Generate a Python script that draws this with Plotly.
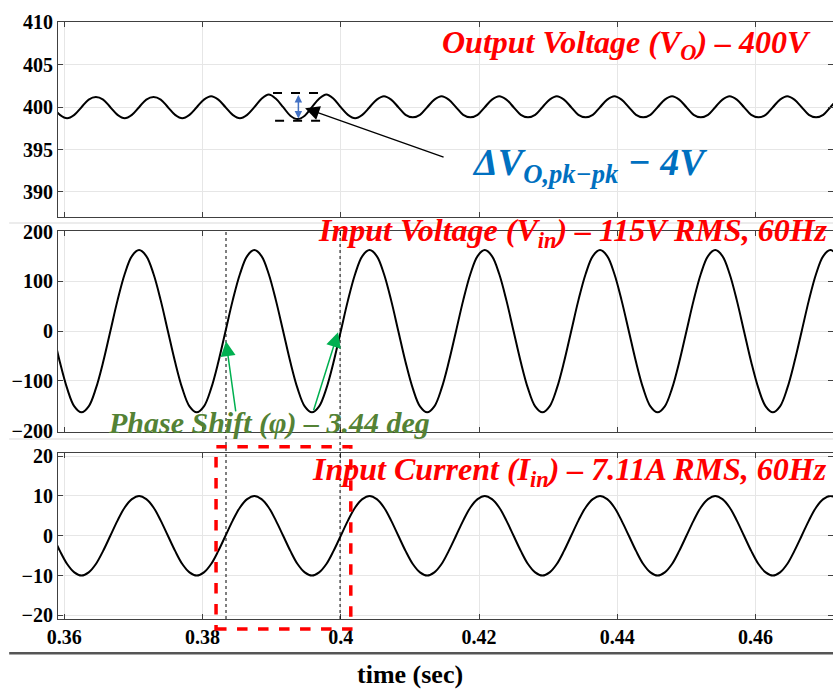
import plotly.graph_objects as go
from plotly.subplots import make_subplots

# ---- data (samples every 1/16 cycle of the 60 Hz line) ----
time_s = [0.35833, 0.35937, 0.36042, 0.36146, 0.36250, 0.36354, 0.36458, 0.36563,
          0.36667, 0.36771, 0.36875, 0.36979, 0.37083, 0.37187, 0.37292, 0.37396,
          0.37500, 0.37604, 0.37708, 0.37812, 0.37917, 0.38021, 0.38125, 0.38229,
          0.38333, 0.38437, 0.38542, 0.38646, 0.38750, 0.38854, 0.38958, 0.39062,
          0.39167, 0.39271, 0.39375, 0.39479, 0.39583, 0.39687, 0.39792, 0.39896,
          0.40000, 0.40104, 0.40208, 0.40312, 0.40417, 0.40521, 0.40625, 0.40729,
          0.40833, 0.40937, 0.41042, 0.41146, 0.41250, 0.41354, 0.41458, 0.41562,
          0.41667, 0.41771, 0.41875, 0.41979, 0.42083, 0.42187, 0.42292, 0.42396,
          0.42500, 0.42604, 0.42708, 0.42812, 0.42917, 0.43021, 0.43125, 0.43229,
          0.43333, 0.43437, 0.43542, 0.43646, 0.43750, 0.43854, 0.43958, 0.44062,
          0.44167, 0.44271, 0.44375, 0.44479, 0.44583, 0.44687, 0.44792, 0.44896,
          0.45000, 0.45104, 0.45208, 0.45312, 0.45417, 0.45521, 0.45625, 0.45729,
          0.45833, 0.45937, 0.46042, 0.46146, 0.46250, 0.46354, 0.46458, 0.46562,
          0.46667, 0.46771, 0.46875, 0.46979, 0.47083, 0.47187, 0.47292]

v_out = [400.0, 399.1, 398.7, 399.1, 400.0, 400.9, 401.2, 400.9,
         400.0, 399.1, 398.7, 399.1, 400.0, 400.9, 401.2, 400.9,
         400.0, 399.1, 398.7, 399.1, 400.0, 400.9, 401.3, 400.9,
         400.0, 399.1, 398.7, 399.1, 400.0, 401.0, 401.5, 401.0,
         400.0, 399.0, 398.6, 399.0, 400.0, 401.0, 401.5, 401.0,
         400.0, 399.1, 398.7, 399.1, 400.0, 400.9, 401.3, 400.9,
         400.0, 399.1, 398.8, 399.1, 400.0, 400.9, 401.3, 400.9,
         400.0, 399.1, 398.8, 399.1, 400.0, 400.9, 401.3, 400.9,
         400.0, 399.1, 398.8, 399.1, 400.0, 400.9, 401.3, 400.9,
         400.0, 399.1, 398.8, 399.1, 400.0, 400.9, 401.3, 400.9,
         400.0, 399.1, 398.8, 399.1, 400.0, 400.9, 401.3, 400.9,
         400.0, 399.1, 398.8, 399.1, 400.0, 400.9, 401.3, 400.9,
         400.0, 399.1, 398.8, 399.1, 400.0, 400.9, 401.3, 400.9,
         400.0, 399.1, 398.8, 399.1, 400.0, 400.9, 401.3]

v_in = [0, -62, -115, -151, -163, -151, -115, -62, 0, 62, 115, 151, 163, 151, 115, 62,
        0, -62, -115, -151, -163, -151, -115, -62, 0, 62, 115, 151, 163, 151, 115, 62,
        0, -62, -115, -151, -163, -151, -115, -62, 0, 62, 115, 151, 163, 151, 115, 62,
        0, -62, -115, -151, -163, -151, -115, -62, 0, 62, 115, 151, 163, 151, 115, 62,
        0, -62, -115, -151, -163, -151, -115, -62, 0, 62, 115, 151, 163, 151, 115, 62,
        0, -62, -115, -151, -163, -151, -115, -62, 0, 62, 115, 151, 163, 151, 115, 62,
        0, -62, -115, -151, -163, -151, -115, -62, 0, 62, 115, 151, 163, 151, 115]

i_in = [0, -3.8, -7.1, -9.2, -10, -9.2, -7.1, -3.8, 0, 3.8, 7.1, 9.2, 10, 9.2, 7.1, 3.8,
        0, -3.8, -7.1, -9.2, -10, -9.2, -7.1, -3.8, 0, 3.8, 7.1, 9.2, 10, 9.2, 7.1, 3.8,
        0, -3.8, -7.1, -9.2, -10, -9.2, -7.1, -3.8, 0, 3.8, 7.1, 9.2, 10, 9.2, 7.1, 3.8,
        0, -3.8, -7.1, -9.2, -10, -9.2, -7.1, -3.8, 0, 3.8, 7.1, 9.2, 10, 9.2, 7.1, 3.8,
        0, -3.8, -7.1, -9.2, -10, -9.2, -7.1, -3.8, 0, 3.8, 7.1, 9.2, 10, 9.2, 7.1, 3.8,
        0, -3.8, -7.1, -9.2, -10, -9.2, -7.1, -3.8, 0, 3.8, 7.1, 9.2, 10, 9.2, 7.1, 3.8,
        0, -3.8, -7.1, -9.2, -10, -9.2, -7.1, -3.8, 0, 3.8, 7.1, 9.2, 10, 9.2, 7.1]

x_ticks = [0.36, 0.38, 0.40, 0.42, 0.44, 0.46]
x_tick_text = ["0.36", "0.38", "0.4", "0.42", "0.44", "0.46"]
vo_ticks = [390, 395, 400, 405, 410]
vin_ticks = [-200, -100, 0, 100, 200]
iin_ticks = [-20, -10, 0, 10, 20]

SERIF = "Liberation Serif"
AX = "#404040"
GRID = "#e6e6e6"
TICKFONT = dict(family=SERIF, size=20, color="black", weight="bold")

fig = make_subplots(rows=3, cols=1, shared_xaxes=True)
for r, y in enumerate([v_out, v_in, i_in], start=1):
    fig.add_trace(go.Scatter(x=time_s, y=y, mode="lines",
                             line=dict(color="black", width=2, shape="spline", smoothing=1.0),
                             showlegend=False, hoverinfo="skip"), row=r, col=1)

fig.update_layout(
    width=833, height=690,
    margin=dict(l=58, r=0, t=22, b=71),
    paper_bgcolor="white", plot_bgcolor="white",
    font=dict(family=SERIF, size=20, color="black", weight="bold"),
)
fig.update_xaxes(range=[0.3591, 0.4712], tickvals=x_ticks, ticktext=x_tick_text,
                 showline=True, mirror="ticks", linecolor=AX, linewidth=1,
                 ticks="inside", ticklen=5, tickcolor=AX,
                 showgrid=True, gridcolor=GRID, zeroline=False, tickfont=TICKFONT)
fig.update_yaxes(showline=True, mirror="ticks", linecolor=AX, linewidth=1,
                 ticks="inside", ticklen=5, tickcolor=AX,
                 showgrid=True, gridcolor=GRID, zeroline=False, tickfont=TICKFONT)
fig.update_xaxes(showticklabels=False, row=1, col=1)
fig.update_xaxes(showticklabels=False, row=2, col=1)
fig.update_xaxes(showticklabels=True, row=3, col=1)
fig.update_yaxes(domain=[0.6734, 1.0], range=[387.05, 410.05], tickvals=vo_ticks, row=1, col=1)
fig.update_yaxes(domain=[0.3137, 0.6504], range=[-202, 202], tickvals=vin_ticks, row=2, col=1)
fig.update_yaxes(domain=[0.0, 0.2776], range=[-20.9, 20.7], tickvals=iin_ticks, row=3, col=1)

shapes = []
# faint separators between panels
for yp in [0.6633, 0.3015]:
    shapes.append(dict(type="line", xref="paper", yref="paper", x0=-0.063, x1=1.0, y0=yp, y1=yp,
                       line=dict(color="#ececec", width=2)))
# bottom rule above the axis title
shapes.append(dict(type="line", xref="paper", yref="paper", x0=-0.063, x1=1.0, y0=-0.0575, y1=-0.0575,
                   line=dict(color="#555555", width=2.5)))
# ripple markers (dashed)
shapes.append(dict(type="line", xref="x", yref="y", x0=0.3902, x1=0.3970, y0=401.68, y1=401.68,
                   line=dict(color="black", width=2, dash="dash")))
shapes.append(dict(type="line", xref="x", yref="y", x0=0.3905, x1=0.3977, y0=398.39, y1=398.39,
                   line=dict(color="black", width=2, dash="dash")))
# vertical dotted zero-crossing markers
for xv in [0.3834, 0.3999]:
    shapes.append(dict(type="line", xref="x", yref="paper", x0=xv, x1=xv, y0=0.0, y1=0.6516,
                       line=dict(color="black", width=1, dash="dot")))
# red dashed box
shapes.append(dict(type="rect", xref="x", yref="paper", x0=0.38196, x1=0.40145, y0=-0.0168, y1=0.2886,
                   line=dict(color="#ff0000", width=3.5, dash="dash"), fillcolor="rgba(0,0,0,0)"))
fig.update_layout(shapes=shapes)

red_font = dict(family=SERIF, size=32, color="#ff0000", weight="bold", style="italic")
ann = [
    dict(text="Output Voltage (V<sub>O</sub>) – 400V", xref="paper", yref="paper",
         x=0.974, y=0.9615, xanchor="right", yanchor="middle", showarrow=False, font=red_font),
    dict(text="Input Voltage (V<sub>in</sub>) – 115V RMS, 60Hz", xref="paper", yref="paper",
         x=0.996, y=0.6466, xanchor="right", yanchor="middle", showarrow=False, font=red_font),
    dict(text="Input Current (I<sub>in</sub>) – 7.11A RMS, 60Hz", xref="paper", yref="paper",
         x=0.995, y=0.2467, xanchor="right", yanchor="middle", showarrow=False, font=red_font),
    dict(text="Phase Shift (φ) – 3.44 deg", xref="paper", yref="paper",
         x=0.2723, y=0.3283, xanchor="center", yanchor="middle", showarrow=False,
         font=dict(family=SERIF, size=30, color="#548235", weight="bold", style="italic")),
    dict(text="ΔV<sub>O,pk−pk</sub> − 4V", xref="paper", yref="paper",
         x=0.5316, y=0.760, xanchor="left", yanchor="middle", showarrow=False,
         font=dict(family=SERIF, size=38, color="#0070c0", weight="bold", style="italic")),
    dict(text="time (sec)", xref="paper", yref="paper",
         x=0.454, y=-0.0925, xanchor="center", yanchor="middle", showarrow=False,
         font=dict(family=SERIF, size=26, color="black", weight="bold")),
    # black pointer arrow
    dict(text="", x=0.39484, y=399.88, xref="x", yref="y", ax=0.41509, ay=394.04, axref="x", ayref="y",
         showarrow=True, arrowhead=2, arrowsize=2.2, arrowwidth=1.3, arrowcolor="black"),
    # blue double arrow
    dict(text="", x=0.39387, y=401.45, xref="x", yref="y", ax=0.39387, ay=398.5, axref="x", ayref="y",
         showarrow=True, arrowhead=2, startarrowhead=2, arrowside="end+start", arrowsize=1,
         arrowwidth=1.5, arrowcolor="#4472c4"),
    # green arrows
    dict(text="", x=0.3834, y=-20, xref="x2", yref="y2", ax=0.38484, ay=-164, axref="x2", ayref="y2",
         showarrow=True, arrowhead=2, arrowsize=2, arrowwidth=1.5, arrowcolor="#00b050"),
    dict(text="", x=0.39961, y=-2, xref="x2", yref="y2", ax=0.3960, ay=-162, axref="x2", ayref="y2",
         showarrow=True, arrowhead=2, arrowsize=2, arrowwidth=1.5, arrowcolor="#00b050"),
]
fig.update_layout(annotations=ann)

fig.write_html("out.html")
